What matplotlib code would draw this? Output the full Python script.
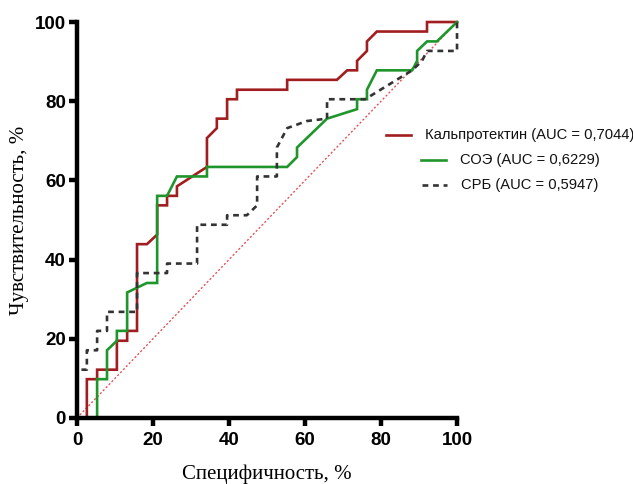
import matplotlib
matplotlib.use('Agg')
import matplotlib.pyplot as plt
from matplotlib.lines import Line2D
from matplotlib.offsetbox import DrawingArea, TextArea, HPacker, VPacker, AnchoredOffsetbox


# ROC data (x = 100 - specificity, y = sensitivity)
calpro_x = [0, 2.6, 2.6, 5.3, 5.3, 10.5, 10.5, 13.2, 13.2, 15.8, 15.8, 18.4, 21.1, 21.1,
            23.7, 23.7, 26.3, 26.3, 34.2, 34.2, 36.8, 36.8, 39.5, 39.5, 42.1, 42.1, 55.3,
            55.3, 68.4, 71.1, 73.7, 73.7, 76.3, 76.3, 78.9, 92.1, 92.1, 100]
calpro_y = [0, 0, 9.8, 9.8, 12.2, 12.2, 19.5, 19.5, 22.0, 22.0, 43.9, 43.9, 46.3, 53.7,
            53.7, 56.1, 56.1, 58.5, 63.4, 70.7, 73.2, 75.6, 75.6, 80.5, 80.5, 82.9, 82.9,
            85.4, 85.4, 87.8, 87.8, 90.2, 92.7, 95.1, 97.6, 97.6, 100, 100]

soe_x = [0, 5.3, 5.3, 7.9, 7.9, 10.5, 10.5, 13.2, 13.2, 18.4, 21.1, 21.1, 23.7, 26.3,
         34.2, 34.2, 55.3, 57.9, 57.9, 65.8, 73.7, 73.7, 76.3, 76.3, 78.9, 88.2, 89.5,
         89.5, 92.1, 94.7, 100]
soe_y = [0, 0, 9.8, 9.8, 17.1, 19.5, 22.0, 22.0, 31.7, 34.1, 34.1, 56.1, 56.1, 61.0,
         61.0, 63.4, 63.4, 65.9, 68.3, 75.6, 78.0, 80.5, 80.5, 82.9, 87.8, 87.8, 90.2,
         92.7, 95.1, 95.1, 100]

crp_x = [0, 0, 2.6, 2.6, 5.3, 5.3, 7.9, 7.9, 15.8, 15.8, 23.7, 23.7, 31.6, 31.6, 39.5,
         39.5, 44.7, 47.4, 47.4, 52.6, 52.6, 55.3, 60.5, 65.8, 65.8, 75.8, 88.2, 90.8,
         92.1, 100, 100]
crp_y = [0, 12.2, 12.2, 17.1, 17.1, 22.0, 22.0, 26.8, 26.8, 36.6, 36.6, 39.0, 39.0, 48.8,
         48.8, 51.2, 51.2, 53.7, 61.0, 61.0, 68.3, 73.2, 75.0, 75.6, 80.5, 80.5, 87.8,
         90.2, 92.7, 92.7, 100]

labels = ['Кальпротектин (AUC = 0,7044)', 'СОЭ (AUC = 0,6229)', 'СРБ (AUC = 0,5947)']
colors = ['#a11d1f', '#1f962b', '#333333']
styles = ['-', '-', (0, (2.2, 1.8))]
ticks = [0, 20, 40, 60, 80, 100]


fig = plt.figure(figsize=(6.33, 4.84), dpi=100)
ax = fig.add_axes([0.1216, 0.1364, 0.6004, 0.8181])

# chance line
ax.plot([0, 100], [0, 100], color='#e0545a', lw=1.0, linestyle=(0, (1.5, 1.5)), clip_on=False)

series = [(calpro_x, calpro_y), (soe_x, soe_y), (crp_x, crp_y)]
for (xs, ys), c, ls in zip(series, colors, styles):
    ax.plot(xs, ys, color=c, lw=1.9, linestyle=ls, clip_on=False, solid_joinstyle='miter')

ax.set_xlim(0, 100)
ax.set_ylim(0, 100)
ax.set_xticks(ticks)
ax.set_yticks(ticks)

for s in ['top', 'right']:
    ax.spines[s].set_visible(False)
for s in ['left', 'bottom']:
    ax.spines[s].set_linewidth(3.2)
    ax.spines[s].set_capstyle('projecting')

tick_font = {'family': ['Liberation Sans', 'DejaVu Sans'], 'weight': 'bold', 'size': 13.5}
ax.tick_params(axis='both', width=3.2, length=6, direction='out')
ax.tick_params(axis='x', pad=4)
ax.tick_params(axis='y', pad=2)
ax.set_xticklabels([str(t) for t in ticks], fontdict=tick_font)
ax.set_yticklabels([str(t) for t in ticks], fontdict=tick_font)

label_font = {'family': ['Liberation Serif', 'DejaVu Serif'], 'size': 15}
ax.set_xlabel('Специфичность, %', fontdict=label_font, labelpad=11)
ax.set_ylabel('Чувствительность, %', fontdict=label_font, labelpad=4)

# centred legend, built by hand
rows = []
for lab, c, ls in zip(labels, colors, styles):
    da = DrawingArea(18, 10, 0, 0)
    da.add_artist(Line2D([0, 18], [5, 5], color=c, lw=1.9, linestyle=ls))
    ta = TextArea(lab, textprops={'family': ['Liberation Sans', 'DejaVu Sans'],
                                  'size': 10.6, 'color': '#111111'})
    rows.append(HPacker(children=[da, ta], align='center', pad=0, sep=10))
box = VPacker(children=rows, align='center', pad=0, sep=8)
anch = AnchoredOffsetbox(loc='center', child=box, frameon=False,
                         bbox_to_anchor=(0.806, 0.669), bbox_transform=fig.transFigure)
fig.add_artist(anch)

fig.savefig('out.png', dpi=100)
